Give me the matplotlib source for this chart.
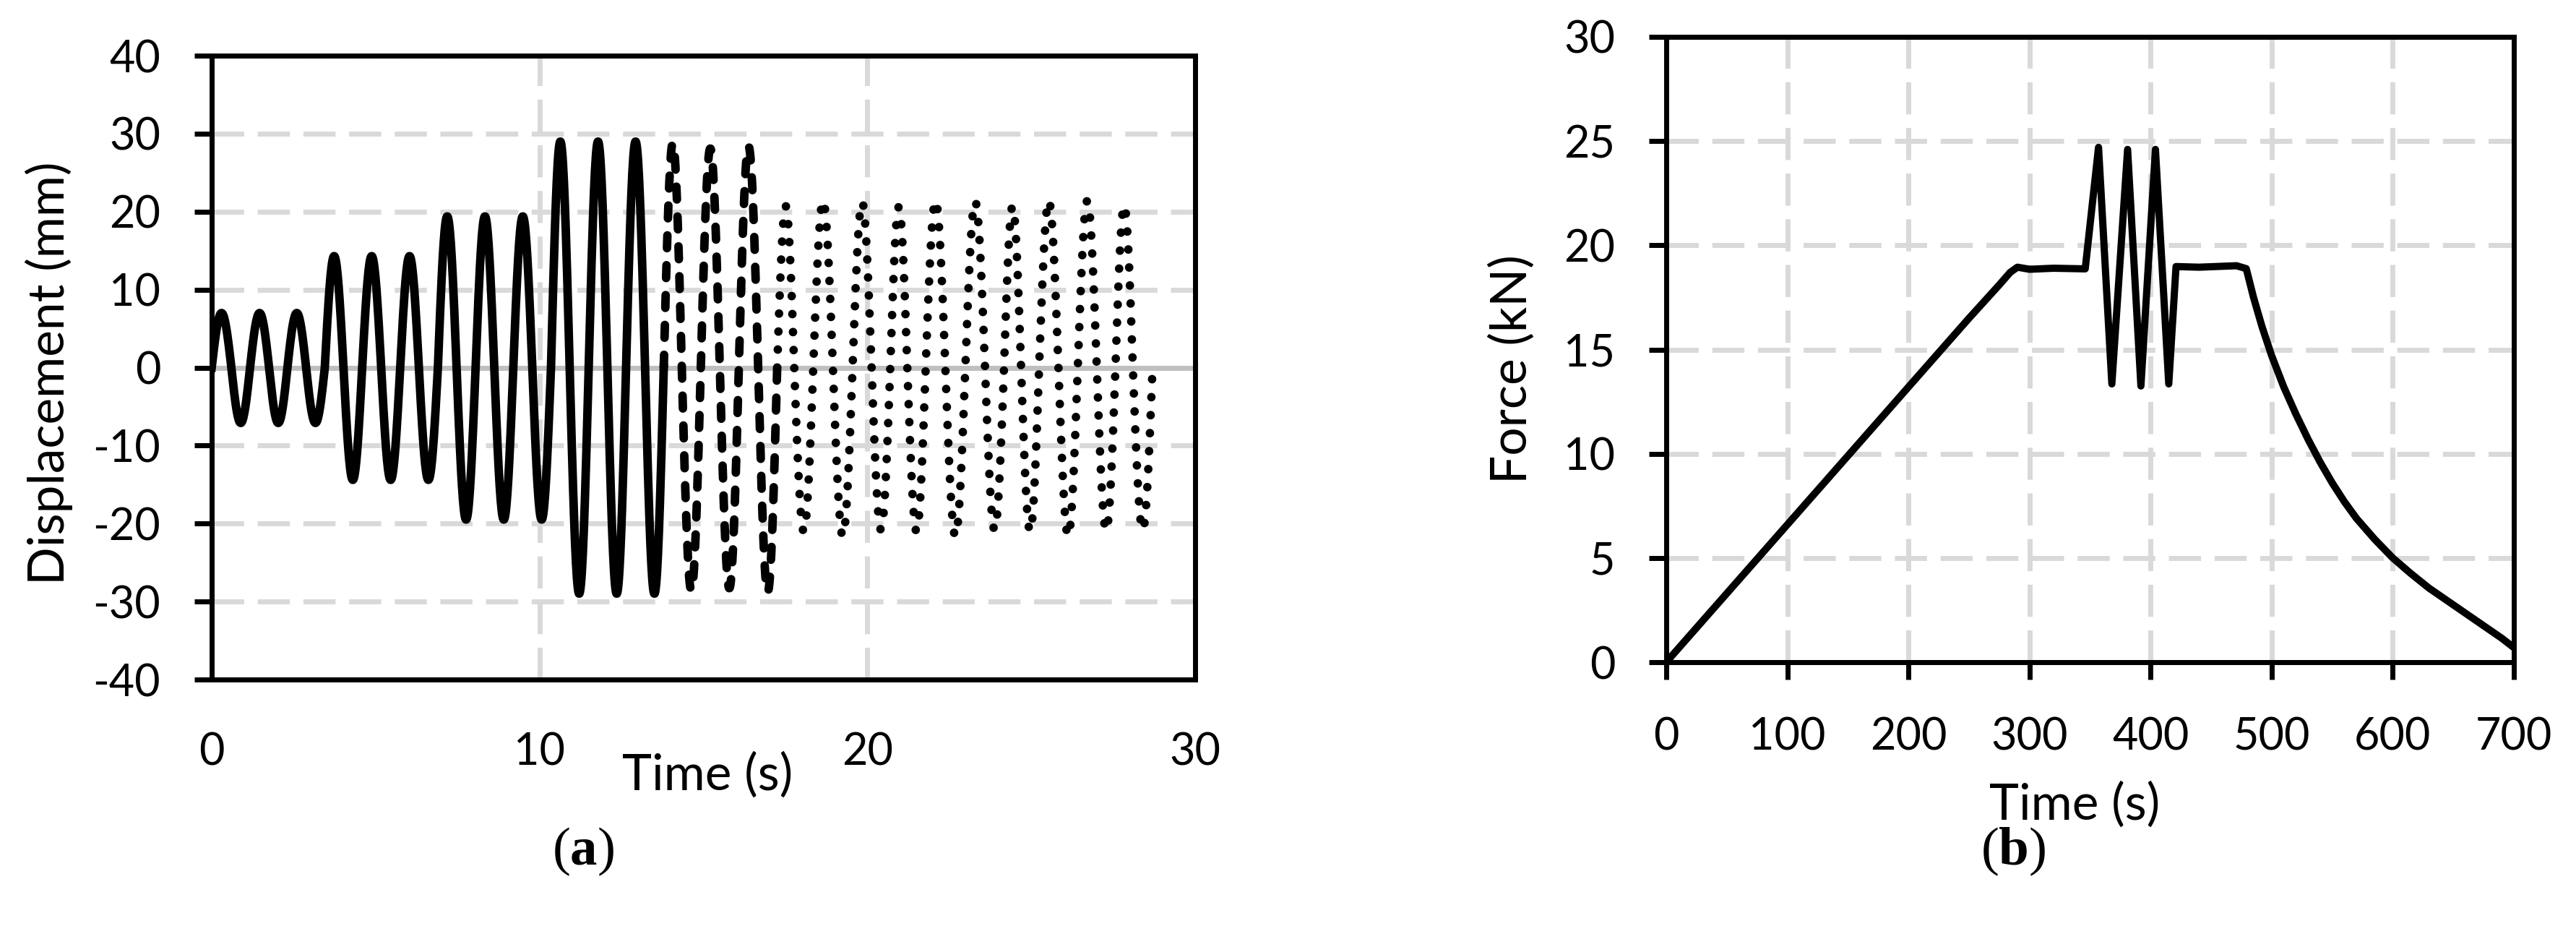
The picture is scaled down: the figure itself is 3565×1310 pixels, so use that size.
import numpy as np
import matplotlib
matplotlib.use("Agg")
import matplotlib.pyplot as plt

# Output
FIG_W, FIG_H, DPI = 35.66, 13.10, 100
OUT_FILE = "out.png"

# Styling (Excel-like)
GRID_COLOR = "#d9d9d9"
ZERO_COLOR = "#bfbfbf"
FONT_SIZE = 44
TITLE_SIZE = 50
LINE_W_A = 8.5
LINE_W_B = 7.2
FRAME_W = 5

plt.rcParams["font.family"] = ["Lato", "DejaVu Sans"]
plt.rcParams["axes.unicode_minus"] = False
plt.rcParams["mathtext.fontset"] = "custom"
plt.rcParams["mathtext.rm"] = "Liberation Serif"
plt.rcParams["mathtext.bf"] = "Liberation Serif:bold"

# (a) displacement history: zero-crossing times (s) and peak of each half wave (mm)
solid_zero_t = [0.0, 0.60, 1.17, 1.75, 2.31, 2.88, 3.45, 4.02, 4.59, 5.17, 5.75, 6.32, 6.90,
                7.47, 8.05, 8.62, 9.20, 9.78, 10.35, 10.92, 11.50, 12.07, 12.64, 13.22, 13.79]
solid_peak = [7.0, -7.1, 7.0, -7.1, 7.0, -7.1,
              14.3, -14.4, 14.3, -14.4, 14.3, -14.4,
              19.4, -19.5, 19.4, -19.5, 19.4, -19.5,
              29.0, -29.0, 29.0, -29.0, 29.0, -29.0]

dashed_zero_t = [13.79, 14.34, 14.92, 15.50, 16.08, 16.67, 17.25]
dashed_peak = [28.8, -28.6, 28.1, -28.3, 28.4, -28.8]

dotted_zero_t = [17.25, 17.77, 18.35, 18.95, 19.55, 20.13, 20.70, 21.22, 21.78, 22.38, 22.99,
                 23.59, 24.17, 24.69, 25.24, 25.83, 26.42, 27.00, 27.57, 28.10, 28.70]
dotted_peak = [20.7, -21.0, 21.4, -21.6, 21.2, -20.8, 20.6, -21.0, 21.4, -21.6,
               21.3, -20.8, 20.7, -21.0, 21.4, -21.6, 21.4, -20.9, 20.8, -20.8]

# (b) force history
force_t = [0, 50, 100, 150, 200, 250, 275, 284, 290, 300, 320, 346,
           357, 368, 381, 392, 404, 415, 421, 440, 471, 479,
           485, 492, 500, 510, 520, 530, 540, 550, 560, 570, 585, 600,
           615, 630, 645, 660, 675, 690, 700]
force_kn = [0.0, 3.3, 6.6, 9.9, 13.2, 16.5, 18.1, 18.7, 18.95, 18.85, 18.9, 18.87,
            24.7, 13.35, 24.6, 13.25, 24.6, 13.35, 18.98, 18.95, 19.02, 18.88,
            17.5, 16.1, 14.7, 13.2, 11.9, 10.7, 9.6, 8.6, 7.7, 6.9, 5.9, 5.0,
            4.25, 3.55, 2.95, 2.35, 1.75, 1.15, 0.7]


def half_waves(zero_t, peaks, n=40):
    """Join half-sine arcs between the zero crossings, one peak per arc."""
    ts, ys = [], []
    for i, amp in enumerate(peaks):
        t = np.linspace(zero_t[i], zero_t[i + 1], n)
        y = amp * np.sin(np.pi * (t - zero_t[i]) / (zero_t[i + 1] - zero_t[i]))
        if i > 0:
            t, y = t[1:], y[1:]
        ts.append(t)
        ys.append(y)
    return np.concatenate(ts), np.concatenate(ys)


def style_axes(ax):
    for sp in ax.spines.values():
        sp.set_linewidth(FRAME_W)
        sp.set_color("black")
        sp.set_zorder(5)
    ax.grid(True, color=GRID_COLOR, linewidth=5, linestyle=(0, (6.4, 2.7)), zorder=0)
    ax.set_axisbelow(True)
    ax.tick_params(labelsize=FONT_SIZE, direction="out", length=17, width=FRAME_W,
                   top=False, right=False)


fig = plt.figure(figsize=(FIG_W, FIG_H), dpi=DPI)

# ---- (a) displacement ----
ax1 = fig.add_axes([0.08216, 0.28244, 0.38166, 0.65878])
style_axes(ax1)
ax1.axhline(0, color=ZERO_COLOR, linewidth=5, zorder=1)

t, d = half_waves(solid_zero_t, solid_peak)
ax1.plot(t, d, color="black", linewidth=LINE_W_A, solid_joinstyle="round", zorder=3)
t, d = half_waves(dashed_zero_t, dashed_peak)
ax1.plot(t, d, color="black", linewidth=LINE_W_A, linestyle=(0, (1.5, 2.0)),
         dash_capstyle="round", zorder=3)
t, d = half_waves(dotted_zero_t, dotted_peak)
ax1.plot(t, d, color="black", linewidth=LINE_W_A, linestyle=(0, (0.01, 2.1)),
         dash_capstyle="round", zorder=3)

ax1.set_xlim(0, 30)
ax1.set_ylim(-40, 40)
ax1.set_xticks([0, 10, 20, 30])
ax1.set_yticks(np.arange(-40, 41, 10))
ax1.tick_params(axis="x", length=0, pad=52)
ax1.tick_params(axis="y", pad=34)

# ---- (b) force ----
ax2 = fig.add_axes([0.64666, 0.30076, 0.32894, 0.66031])
style_axes(ax2)
ax2.plot(force_t, force_kn, color="black", linewidth=LINE_W_B, solid_joinstyle="round", zorder=3)
ax2.set_xlim(0, 700)
ax2.set_ylim(0, 30)
ax2.set_xticks(np.arange(0, 701, 100))
ax2.set_yticks(np.arange(0, 31, 5))
ax2.tick_params(axis="x", pad=37)
ax2.tick_params(axis="y", pad=34)


# Axis titles and sub-figure captions (placed in figure pixels)
def fx(px):
    return px / 3566


def fy(py):
    return 1 - py / 1310


fig.text(fx(68), fy(516), "Displacement (mm)", rotation=90, ha="center", va="center",
         fontsize=TITLE_SIZE)
fig.text(fx(979), fy(1072), "Time (s)", ha="center", va="center", fontsize=TITLE_SIZE)
fig.text(fx(2092), fy(511), "Force (kN)", rotation=90, ha="center", va="center",
         fontsize=TITLE_SIZE)
fig.text(fx(2871), fy(1113), "Time (s)", ha="center", va="center", fontsize=TITLE_SIZE)
fig.text(fx(807), fy(1178), r"($\mathbf{a}$)", ha="center", va="center", fontsize=54,
         family="Liberation Serif")
fig.text(fx(2786), fy(1178), r"($\mathbf{b}$)", ha="center", va="center", fontsize=54,
         family="Liberation Serif")

fig.savefig(OUT_FILE, dpi=DPI, facecolor="white")
